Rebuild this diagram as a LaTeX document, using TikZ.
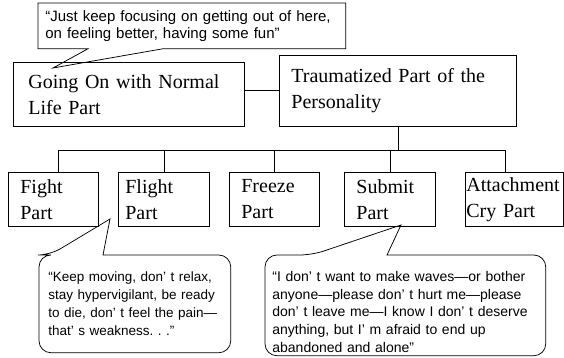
\documentclass[tikz,border=0pt]{standalone}
\usepackage{fontspec}
\setmainfont{Liberation Serif}
\newfontfamily\quotefont{Liberation Sans}
\usetikzlibrary{positioning,calc}

\tikzset{every picture/.style={line width=0.75pt}}
\tikzset{
  partbox/.style={draw, anchor=north west, align=left, inner ysep=0pt,
    font=\fontsize{20}{26}\selectfont},
  quotebox/.style={anchor=north west, align=left, inner ysep=0pt,
    font=\quotefont\fontsize{14}{18}\selectfont},
  quoteline/.style={line width=0.75pt, line join=miter},
}

\begin{document}
\begin{tikzpicture}[x=1pt,y=1pt,yscale=-1,xscale=1]
\useasboundingbox (0,0) rectangle (564,358);

% Parts
\node [partbox, inner xsep=15pt, text width=201pt, minimum height=64pt] (normal) at (13,62) {Going On with Normal\\Life Part};
\node [partbox, inner xsep=12pt, text width=213pt, minimum height=71pt] (trauma) at (279,55) {Traumatized Part of the\\Personality};
\node [partbox, inner xsep=12pt, text width=66pt, minimum height=54pt] (fight) at (8,172) {Fight\\Part};
\node [partbox, inner xsep=7pt, text width=77pt, minimum height=54pt] (flight) at (118,172) {Flight\\Part};
\node [partbox, inner xsep=12pt, text width=66pt, minimum height=54pt] (freeze) at (229,172) {Freeze\\Part};
\node [partbox, inner xsep=12pt, text width=67pt, minimum height=54pt] (submit) at (344,172) {Submit\\Part};
\node [partbox, inner xsep=1pt, text width=96pt, minimum height=54pt] (attach) at (465,172) {Attachment\\Cry Part};

% Connectors
\coordinate (bus) at (0,150);
\draw (trauma.west -| normal.east) -- (trauma.west);
\draw (trauma.south) -- (trauma.south |- bus);
\draw ([xshift=5pt]fight.north) -- ([xshift=5pt]fight.north |- bus) -- ([xshift=-9pt]attach.north |- bus) -- ([xshift=-9pt]attach.north);
\draw (flight.north) -- (flight.north |- bus);
\draw (freeze.north) -- (freeze.north |- bus);
\draw (submit.north) -- (submit.north |- bus);

% Callouts
\node [quotebox, inner xsep=7pt, text width=293pt, minimum height=45pt, font=\quotefont\fontsize{15}{16.5}\selectfont] (qnormal) at (38,3) {“Just keep focusing on getting out of here,\\on feeling better, having some fun”};
\coordinate (tipnormal) at (53,68);
\draw [quoteline] (qnormal.south west) -- ++(50,0) -- (tipnormal) -- ($(qnormal.south west)+(125,0)$) -- (qnormal.south east) -- (qnormal.north east) -- (qnormal.north west) -- cycle;

\node [quotebox, inner xsep=9pt, text width=173pt, minimum height=97pt, font=\quotefont\fontsize{13.5}{18}\selectfont] (qfight) at (39,255) {“Keep moving, don’ t relax,\\stay hypervigilant, be ready\\to die, don’ t feel the pain—\\that’ s weakness.\ .\ .”};
\coordinate (tipfight) at (110,219);
\draw [quoteline, rounded corners=12pt] ($(qfight.north west)+(11,0)$) [sharp corners] -- (tipfight) -- ($(qfight.north west)+(64,0)$) [rounded corners=12pt] -- (qfight.north east) -- (qfight.south east) -- (qfight.south west) -- (qfight.north west) -- cycle;

\node [quotebox, inner xsep=7pt, text width=266pt, minimum height=100pt, font=\quotefont\fontsize{14}{17.75}\selectfont] (qsubmit) at (265,255) {\rule{0pt}{23pt}“I don’ t want to make waves—or bother\\anyone—please don’ t hurt me—please\\don’ t leave me—I know I don’ t deserve\\anything, but I’ m afraid to end up\\abandoned and alone”};
\coordinate (tipsubmit) at (401,225);
\draw [quoteline, rounded corners=12pt] ($(qsubmit.north west)+(47,0)$) [sharp corners] -- (tipsubmit) -- ($(qsubmit.north west)+(122,0)$) [rounded corners=12pt] -- (qsubmit.north east) -- (qsubmit.south east) -- (qsubmit.south west) -- (qsubmit.north west) -- cycle;

\end{tikzpicture}
\end{document}
